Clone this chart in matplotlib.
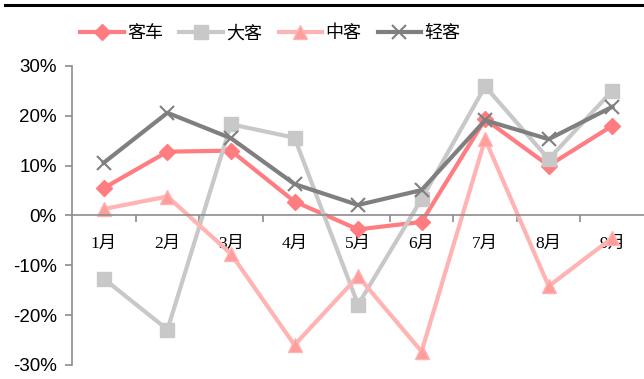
import matplotlib
matplotlib.use("Agg")
import matplotlib.pyplot as plt
from matplotlib.lines import Line2D
from matplotlib.ticker import FuncFormatter, FixedLocator

months = ["1月", "2月", "3月", "4月", "5月", "6月", "7月", "8月", "9月"]
series_names = ["客车", "大客", "中客", "轻客"]

bus_total = [5.5, 12.8, 13.0, 2.8, -2.8, -1.3, 19.3, 10.0, 18.0]
bus_large = [-12.7, -22.9, 18.3, 15.6, -17.9, 3.3, 25.9, 11.3, 25.0]
bus_medium = [1.3, 3.8, -7.7, -26.0, -12.2, -27.3, 15.3, -14.2, -4.5]
bus_light = [10.6, 20.6, 15.5, 6.3, 2.1, 5.1, 19.1, 15.3, 21.8]

styles = [
    dict(color="#FF7C80", marker="D", ms=8, mfc="#FF7C80", mec="#FF7C80"),
    dict(color="#C8C8C8", marker="s", ms=10, mfc="#C8C8C8", mec="#C8C8C8"),
    dict(color="#FFB3B3", marker="^", ms=10, mfc="#FF9C9C", mec="#FFB3B3"),
    dict(color="#7F7F7F", marker="x", ms=10, mfc="#7F7F7F", mec="#7F7F7F", mew=1.5),
]

fig = plt.figure(figsize=(6.44, 3.79), dpi=100)
ax = fig.add_axes([0.112, 0.037, 0.888, 0.789])

x = list(range(len(months)))
for vals, st in zip([bus_total, bus_large, bus_medium, bus_light], styles):
    ax.plot(x, vals, lw=3, clip_on=False, **st)

ax.set_xlim(-0.5, len(months) - 0.5)
ax.set_ylim(-30, 30)
ax.set_yticks(range(-30, 31, 10))
ax.yaxis.set_major_formatter(FuncFormatter(lambda v, p: f"{v:.0f}%"))
ax.tick_params(axis="y", direction="out", length=5, width=1.2, color="#8C8C8C",
               labelsize=13.5, pad=6)
for t in ax.get_yticklabels():
    t.set_family(["Liberation Sans", "DejaVu Sans"])

# category axis sits on the zero line, ticks between categories
ax.spines["bottom"].set_position(("data", 0))
ax.spines["bottom"].set_color("#8C8C8C")
ax.spines["bottom"].set_linewidth(1.2)
ax.spines["left"].set_color("#8C8C8C")
ax.spines["left"].set_linewidth(1.2)
ax.spines["top"].set_visible(False)
ax.spines["right"].set_visible(False)
ax.set_xticks(x)
ax.set_xticklabels(months, family=["Liberation Serif", "Noto Sans CJK SC"], fontsize=12.5)
ax.tick_params(axis="x", which="major", length=0, pad=15)
ax.xaxis.set_minor_locator(FixedLocator([i + 0.5 for i in x[:-1]]))
ax.tick_params(axis="x", which="minor", direction="out", length=5, width=1.2,
               color="#8C8C8C")

handles = [Line2D([], [], lw=3, **st) for st in styles]
fig.legend(handles, series_names, loc="center", bbox_to_anchor=(0.42, 0.912),
           ncol=4, frameon=False, handlelength=2.4, columnspacing=0.9,
           handletextpad=0.2, prop={"family": "Noto Sans CJK SC", "size": 13})

# rule across the top
fig.add_artist(Line2D([0.008, 1.0], [0.987, 0.987], color="black", lw=2.2))

fig.savefig("out.png", dpi=100)
